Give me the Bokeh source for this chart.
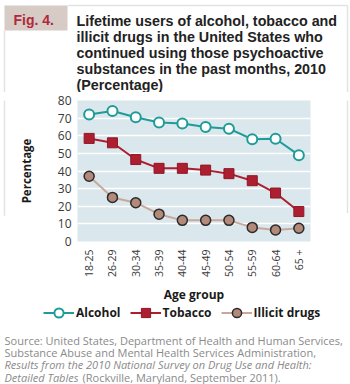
import math
from bokeh.plotting import figure
from bokeh.layouts import column, row
from bokeh.models import Label, Legend, LegendItem, ColumnDataSource, Range1d
from bokeh.embed import file_html
from bokeh.resources import INLINE

ages = ["18-25", "26-29", "30-34", "35-39", "40-44", "45-49", "50-54", "55-59", "60-64", "65 +"]
alcohol = [72, 74, 70.5, 67.5, 67, 65, 64, 58, 58.3, 49]
tobacco = [58.5, 56, 46.5, 41.5, 41.5, 40.5, 38.5, 34.5, 27.5, 17]
illicit = [37, 25, 22, 15.5, 12, 12, 12, 8, 6.5, 7.5]
y_ticks = [0, 10, 20, 30, 40, 50, 60, 70, 80]
series_names = ["Alcohol", "Tobacco", "Illicit drugs"]

fig_label = "Fig. 4."
title_lines = [
    "Lifetime users of alcohol, tobacco and",
    "illicit drugs in the United States who",
    "continued using those psychoactive",
    "substances in the past months, 2010",
    "(Percentage)",
]
source_lines = [
    ("Source: United States, Department of Health and Human Services,", "normal"),
    ("Substance Abuse and Mental Health Services Administration,", "normal"),
    ("Results from the 2010 National Survey on Drug Use and Health:", "italic"),
]
source_last_italic = "Detailed Tables"
source_last_plain = "(Rockville, Maryland, September 2011)."

teal = "#1f9c99"
red = "#ad1f30"
brown_line = "#c9a89c"
border = "#e3e3e3"
W = 350
TOP_H, MID_TOP, MID_H, BOT_H = 92, 8, 213, 79
STRIP = 10


def deco_fig(w, h, y0, y1, x0=0, x1=None):
    f = figure(width=w, height=h, x_range=Range1d(x0, x0 + w if x1 is None else x1),
               y_range=Range1d(y1, y0), output_backend="svg", toolbar_location=None,
               min_border=0, x_axis_type=None, y_axis_type=None)
    f.grid.visible = False
    f.outline_line_color = None
    f.background_fill_color = "white"
    f.border_fill_color = "white"
    return f


# ---------- top: figure label + title ----------
top = deco_fig(W, TOP_H, 0, TOP_H)
top.quad(left=4, right=67, top=5, bottom=30, fill_color="#d6cbc5", line_color=None)
top.segment(x0=[67, 4, 347], y0=[5, 30, 5], x1=[347, 4, 347], y1=[5, TOP_H, TOP_H],
            line_color=border, line_width=1.5)
top.add_layout(Label(text=fig_label, x=13, y=19.5, text_font="Liberation Sans",
                     text_font_style="bold", text_font_size="14px", text_color="#b02a3c",
                     text_baseline="alphabetic"))
for i, t in enumerate(title_lines):
    top.add_layout(Label(text=t, x=76, y=20.3 + 16 * i, text_font="Liberation Sans",
                         text_font_style="bold", text_font_size="14.3px",
                         text_color="#222222", text_baseline="alphabetic"))

# ---------- middle: side strips + chart ----------
left_strip = deco_fig(STRIP, MID_H, TOP_H, TOP_H + MID_H)
left_strip.segment(x0=[4], y0=[TOP_H], x1=[4], y1=[266], line_color=border, line_width=1.5)
right_strip = deco_fig(STRIP, MID_H, TOP_H, TOP_H + MID_H, x0=340, x1=350)
right_strip.segment(x0=[347], y0=[TOP_H], x1=[347], y1=[262], line_color=border, line_width=1.5)

src = ColumnDataSource(dict(age=ages, alcohol=alcohol, tobacco=tobacco, illicit=illicit))
p = figure(width=W - 2 * STRIP, height=MID_H, x_range=ages, y_range=(0, 80),
           output_backend="svg", toolbar_location=None,
           min_border_left=67, min_border_right=30, min_border_top=MID_TOP,
           min_border_bottom=MID_H - MID_TOP - 143)
p.background_fill_color = "#dae7ec"
p.border_fill_color = "white"
p.outline_line_color = None
p.x_range.range_padding = 0
p.xgrid.grid_line_color = None
p.ygrid.grid_line_color = "white"
p.ygrid.grid_line_width = 1.5
p.yaxis.ticker = y_ticks

for ax in (p.xaxis[0], p.yaxis[0]):
    ax.axis_line_color = None
    ax.major_tick_line_color = None
    ax.minor_tick_line_color = None
    ax.major_tick_in = 0
    ax.major_tick_out = 0
    ax.major_label_text_font = "Open Sans"
    ax.major_label_text_color = "#3a3a3a"
    ax.axis_label_text_font = "Open Sans"
    ax.axis_label_text_font_style = "bold"
    ax.axis_label_text_color = "#1a1a1a"

p.yaxis.major_label_text_font_size = "12px"
p.yaxis.major_label_standoff = 6
p.yaxis.axis_label = "Percentage"
p.yaxis.axis_label_text_font_size = "11.5px"
p.yaxis.axis_label_standoff = 21
p.xaxis.major_label_text_font_size = "10.5px"
p.xaxis.major_label_orientation = math.pi / 2
p.xaxis.major_label_standoff = 8
p.xaxis.axis_label = "Age group"
p.xaxis.axis_label_text_font_size = "12px"
p.xaxis.axis_label_standoff = 6

styles = [
    dict(line=teal, marker="circle", fill="white", edge=teal, ew=2),
    dict(line=red, marker="square", fill=red, edge="#8e1826", ew=1),
    dict(line=brown_line, marker="circle", fill="#b38a7a", edge="#2a2a2a", ew=1.5),
]
for col, st in zip(["alcohol", "tobacco", "illicit"], styles):
    p.line("age", col, source=src, line_color=st["line"], line_width=2)
    p.scatter("age", col, source=src, marker=st["marker"], size=10,
              fill_color=st["fill"], line_color=st["edge"], line_width=st["ew"])

# ---------- bottom: legend + source ----------
y_bot0 = TOP_H + MID_H
bot = deco_fig(W, BOT_H, y_bot0, y_bot0 + BOT_H)
items = []
for name, st in zip(series_names, styles):
    # legend-only renderers: a single point kept outside the visible area
    lr = bot.line(x=[-1000, -999], y=[-1000, -1000], line_color=st["line"], line_width=2)
    mr = bot.scatter(x=[-1000], y=[-1000], marker=st["marker"], fill_color=st["fill"],
                     line_color=st["edge"], line_width=st["ew"])
    items.append(LegendItem(label=name, renderers=[lr, mr]))
legend = Legend(items=items, orientation="horizontal", location=(43, 60),
                glyph_width=31, glyph_height=23, label_standoff=2, spacing=9,
                padding=0, margin=0, border_line_color=None, background_fill_alpha=0,
                label_text_font="Open Sans", label_text_font_style="bold",
                label_text_font_size="12px", label_text_color="#1a1a1a")
bot.add_layout(legend, "center")

gray = "#8a8a8a"
src_kw = dict(text_font="Open Sans", text_font_size="11px", text_color=gray,
              text_baseline="alphabetic")
for i, (t, style) in enumerate(source_lines):
    bot.add_layout(Label(text=t, x=4, y=339.5 + 12.33 * i, text_font_style=style, **src_kw))
bot.add_layout(Label(text=source_last_italic, x=4, y=376.5, text_font_style="italic", **src_kw))
bot.add_layout(Label(text=source_last_plain, x=82, y=376.5, **src_kw))

layout = column(top, row(left_strip, p, right_strip), bot)
open("out.html", "w").write(file_html(layout, INLINE))
